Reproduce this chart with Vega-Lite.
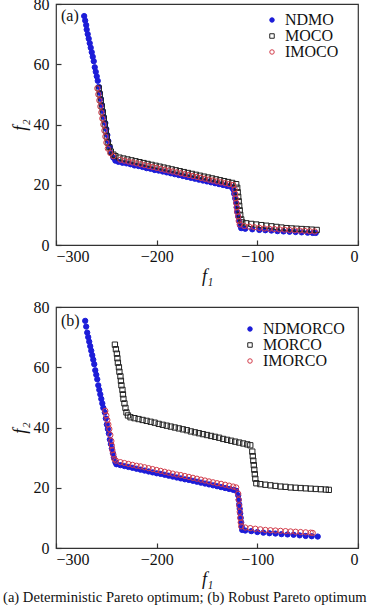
{
"$schema": "https://vega.github.io/schema/vega-lite/v6.json",
"padding": {"left": 3, "top": -5, "right": 0, "bottom": 0},
"background": "white",
"spacing": 12,
"title": {"text": "(a) Deterministic Pareto optimum; (b) Robust Pareto optimum", "orient": "bottom", "anchor": "middle", "fontSize": 14.6, "font": "Liberation Serif", "fontWeight": "normal", "color": "#111", "offset": 1},
"datasets": {
"a": [
{"f1":-272,"f2":76,"s":"NDMO"},{"f1":-271,"f2":74.5,"s":"NDMO"},{"f1":-270,"f2":73,"s":"NDMO"},{"f1":-269.5,"f2":71.5,"s":"NDMO"},{"f1":-268.5,"f2":70,"s":"NDMO"},{"f1":-267.5,"f2":68.5,"s":"NDMO"},{"f1":-266.5,"f2":67,"s":"NDMO"},{"f1":-265.5,"f2":65.5,"s":"NDMO"},{"f1":-264.5,"f2":64,"s":"NDMO"},{"f1":-263.5,"f2":62.5,"s":"NDMO"},{"f1":-262.5,"f2":61,"s":"NDMO"},{"f1":-261.5,"f2":59,"s":"NDMO"},{"f1":-260.5,"f2":57.5,"s":"NDMO"},{"f1":-259.5,"f2":56,"s":"NDMO"},{"f1":-258.5,"f2":54.5,"s":"NDMO"},{"f1":-257.5,"f2":52.5,"s":"NDMO"},{"f1":-256.5,"f2":50.5,"s":"NDMO"},{"f1":-255.5,"f2":48.5,"s":"NDMO"},{"f1":-254.5,"f2":46.5,"s":"NDMO"},{"f1":-253.5,"f2":44.5,"s":"NDMO"},{"f1":-252.5,"f2":42.5,"s":"NDMO"},{"f1":-251,"f2":40.5,"s":"NDMO"},{"f1":-250,"f2":38.5,"s":"NDMO"},{"f1":-249,"f2":36.5,"s":"NDMO"},{"f1":-248,"f2":34.5,"s":"NDMO"},{"f1":-246.5,"f2":32.5,"s":"NDMO"},{"f1":-245,"f2":30.5,"s":"NDMO"},{"f1":-243,"f2":29,"s":"NDMO"},{"f1":-241,"f2":28,"s":"NDMO"},
{"f1":-238,"f2":27.6,"s":"NDMO"},{"f1":-234,"f2":27.3,"s":"NDMO"},{"f1":-230,"f2":27.1,"s":"NDMO"},{"f1":-226,"f2":26.8,"s":"NDMO"},{"f1":-222,"f2":26.4,"s":"NDMO"},{"f1":-218,"f2":26.2,"s":"NDMO"},{"f1":-214,"f2":25.9,"s":"NDMO"},{"f1":-210,"f2":25.5,"s":"NDMO"},{"f1":-206,"f2":25.3,"s":"NDMO"},{"f1":-202,"f2":24.9,"s":"NDMO"},{"f1":-198,"f2":24.7,"s":"NDMO"},{"f1":-194,"f2":24.4,"s":"NDMO"},{"f1":-190,"f2":24.1,"s":"NDMO"},{"f1":-186,"f2":23.8,"s":"NDMO"},{"f1":-182,"f2":23.5,"s":"NDMO"},{"f1":-178,"f2":23.2,"s":"NDMO"},{"f1":-174,"f2":22.9,"s":"NDMO"},{"f1":-170,"f2":22.6,"s":"NDMO"},{"f1":-166,"f2":22.3,"s":"NDMO"},{"f1":-162,"f2":22.0,"s":"NDMO"},{"f1":-158,"f2":21.7,"s":"NDMO"},{"f1":-154,"f2":21.4,"s":"NDMO"},{"f1":-150,"f2":21.1,"s":"NDMO"},{"f1":-146,"f2":20.8,"s":"NDMO"},{"f1":-142,"f2":20.5,"s":"NDMO"},{"f1":-138,"f2":20.2,"s":"NDMO"},{"f1":-134,"f2":19.9,"s":"NDMO"},{"f1":-130,"f2":19.6,"s":"NDMO"},{"f1":-126,"f2":19.3,"s":"NDMO"},
{"f1":-124,"f2":18.5,"s":"NDMO"},{"f1":-123,"f2":17,"s":"NDMO"},{"f1":-122,"f2":15.5,"s":"NDMO"},{"f1":-121,"f2":14,"s":"NDMO"},{"f1":-120.5,"f2":12.5,"s":"NDMO"},{"f1":-120,"f2":11,"s":"NDMO"},{"f1":-119,"f2":9.5,"s":"NDMO"},{"f1":-118,"f2":8,"s":"NDMO"},{"f1":-117,"f2":6.5,"s":"NDMO"},{"f1":-116,"f2":5.6,"s":"NDMO"},
{"f1":-112,"f2":5.4,"s":"NDMO"},{"f1":-105,"f2":5.2,"s":"NDMO"},{"f1":-98,"f2":5.0,"s":"NDMO"},{"f1":-92,"f2":4.9,"s":"NDMO"},{"f1":-86,"f2":4.8,"s":"NDMO"},{"f1":-80,"f2":4.6,"s":"NDMO"},{"f1":-74,"f2":4.5,"s":"NDMO"},{"f1":-68,"f2":4.4,"s":"NDMO"},{"f1":-62,"f2":4.3,"s":"NDMO"},{"f1":-56,"f2":4.2,"s":"NDMO"},{"f1":-50,"f2":4.1,"s":"NDMO"},{"f1":-45,"f2":4.0,"s":"NDMO"},{"f1":-42,"f2":4.0,"s":"NDMO"},
{"f1":-257.5,"f2":52,"s":"MOCO"},{"f1":-256.5,"f2":50,"s":"MOCO"},{"f1":-255.5,"f2":48,"s":"MOCO"},{"f1":-254.5,"f2":46,"s":"MOCO"},{"f1":-253.5,"f2":44,"s":"MOCO"},{"f1":-252.5,"f2":42,"s":"MOCO"},{"f1":-251.5,"f2":40,"s":"MOCO"},{"f1":-250.5,"f2":38,"s":"MOCO"},{"f1":-249.5,"f2":36,"s":"MOCO"},{"f1":-248.5,"f2":34,"s":"MOCO"},{"f1":-247,"f2":32.5,"s":"MOCO"},{"f1":-245.5,"f2":31,"s":"MOCO"},{"f1":-243,"f2":30,"s":"MOCO"},{"f1":-241,"f2":29.5,"s":"MOCO"},
{"f1":-237,"f2":29,"s":"MOCO"},{"f1":-233,"f2":28.7,"s":"MOCO"},{"f1":-229,"f2":28.4,"s":"MOCO"},{"f1":-225,"f2":28.1,"s":"MOCO"},{"f1":-221,"f2":27.8,"s":"MOCO"},{"f1":-217,"f2":27.5,"s":"MOCO"},{"f1":-213,"f2":27.2,"s":"MOCO"},{"f1":-209,"f2":26.9,"s":"MOCO"},{"f1":-205,"f2":26.6,"s":"MOCO"},{"f1":-201,"f2":26.3,"s":"MOCO"},{"f1":-197,"f2":26.0,"s":"MOCO"},{"f1":-193,"f2":25.7,"s":"MOCO"},{"f1":-189,"f2":25.4,"s":"MOCO"},{"f1":-185,"f2":25.1,"s":"MOCO"},{"f1":-181,"f2":24.8,"s":"MOCO"},{"f1":-177,"f2":24.5,"s":"MOCO"},{"f1":-173,"f2":24.2,"s":"MOCO"},{"f1":-169,"f2":23.9,"s":"MOCO"},{"f1":-165,"f2":23.6,"s":"MOCO"},{"f1":-161,"f2":23.3,"s":"MOCO"},{"f1":-157,"f2":23.0,"s":"MOCO"},{"f1":-153,"f2":22.7,"s":"MOCO"},{"f1":-149,"f2":22.4,"s":"MOCO"},{"f1":-145,"f2":22.1,"s":"MOCO"},{"f1":-141,"f2":21.8,"s":"MOCO"},{"f1":-137,"f2":21.5,"s":"MOCO"},{"f1":-133,"f2":21.2,"s":"MOCO"},{"f1":-129,"f2":20.9,"s":"MOCO"},{"f1":-125,"f2":20.6,"s":"MOCO"},{"f1":-121,"f2":20.2,"s":"MOCO"},
{"f1":-120,"f2":19,"s":"MOCO"},{"f1":-119.5,"f2":17.5,"s":"MOCO"},{"f1":-119,"f2":16,"s":"MOCO"},{"f1":-118.5,"f2":14.5,"s":"MOCO"},{"f1":-118,"f2":13,"s":"MOCO"},{"f1":-117.5,"f2":11.5,"s":"MOCO"},{"f1":-117,"f2":10,"s":"MOCO"},{"f1":-116,"f2":8.5,"s":"MOCO"},{"f1":-115,"f2":7.5,"s":"MOCO"},
{"f1":-111,"f2":7.2,"s":"MOCO"},{"f1":-106,"f2":7.0,"s":"MOCO"},{"f1":-101,"f2":6.8,"s":"MOCO"},{"f1":-96,"f2":6.6,"s":"MOCO"},{"f1":-91,"f2":6.4,"s":"MOCO"},{"f1":-86,"f2":6.2,"s":"MOCO"},{"f1":-81,"f2":6.0,"s":"MOCO"},{"f1":-76,"f2":5.8,"s":"MOCO"},{"f1":-71,"f2":5.6,"s":"MOCO"},{"f1":-66,"f2":5.5,"s":"MOCO"},{"f1":-61,"f2":5.4,"s":"MOCO"},{"f1":-56,"f2":5.3,"s":"MOCO"},{"f1":-51,"f2":5.2,"s":"MOCO"},{"f1":-46,"f2":5.1,"s":"MOCO"},{"f1":-41,"f2":5.0,"s":"MOCO"},
{"f1":-259,"f2":52,"s":"IMOCO"},{"f1":-258,"f2":50,"s":"IMOCO"},{"f1":-257,"f2":48,"s":"IMOCO"},{"f1":-256,"f2":46,"s":"IMOCO"},{"f1":-255,"f2":44,"s":"IMOCO"},{"f1":-254,"f2":42,"s":"IMOCO"},{"f1":-253,"f2":40,"s":"IMOCO"},{"f1":-252,"f2":38,"s":"IMOCO"},{"f1":-251,"f2":36,"s":"IMOCO"},{"f1":-250,"f2":34,"s":"IMOCO"},{"f1":-248.5,"f2":32,"s":"IMOCO"},{"f1":-246,"f2":30.5,"s":"IMOCO"},{"f1":-243,"f2":29.5,"s":"IMOCO"},
{"f1":-236,"f2":28.3,"s":"IMOCO"},{"f1":-232,"f2":28.0,"s":"IMOCO"},{"f1":-228,"f2":27.7,"s":"IMOCO"},{"f1":-224,"f2":27.4,"s":"IMOCO"},{"f1":-220,"f2":27.1,"s":"IMOCO"},{"f1":-216,"f2":26.8,"s":"IMOCO"},{"f1":-212,"f2":26.5,"s":"IMOCO"},{"f1":-208,"f2":26.2,"s":"IMOCO"},{"f1":-204,"f2":25.9,"s":"IMOCO"},{"f1":-200,"f2":25.6,"s":"IMOCO"},{"f1":-196,"f2":25.3,"s":"IMOCO"},{"f1":-192,"f2":25.0,"s":"IMOCO"},{"f1":-188,"f2":24.7,"s":"IMOCO"},{"f1":-184,"f2":24.4,"s":"IMOCO"},{"f1":-180,"f2":24.1,"s":"IMOCO"},{"f1":-176,"f2":23.8,"s":"IMOCO"},{"f1":-172,"f2":23.5,"s":"IMOCO"},{"f1":-168,"f2":23.2,"s":"IMOCO"},{"f1":-164,"f2":22.9,"s":"IMOCO"},{"f1":-160,"f2":22.6,"s":"IMOCO"},{"f1":-156,"f2":22.3,"s":"IMOCO"},{"f1":-152,"f2":22.0,"s":"IMOCO"},{"f1":-148,"f2":21.7,"s":"IMOCO"},{"f1":-144,"f2":21.4,"s":"IMOCO"},{"f1":-140,"f2":21.1,"s":"IMOCO"},{"f1":-136,"f2":20.8,"s":"IMOCO"},{"f1":-132,"f2":20.5,"s":"IMOCO"},{"f1":-128,"f2":20.2,"s":"IMOCO"},{"f1":-124,"f2":19.9,"s":"IMOCO"},
{"f1":-122.5,"f2":18.5,"s":"IMOCO"},{"f1":-122,"f2":17,"s":"IMOCO"},{"f1":-121.5,"f2":15.5,"s":"IMOCO"},{"f1":-121,"f2":14,"s":"IMOCO"},{"f1":-120.5,"f2":12.5,"s":"IMOCO"},{"f1":-120,"f2":11,"s":"IMOCO"},{"f1":-119,"f2":9.5,"s":"IMOCO"},{"f1":-118.5,"f2":8,"s":"IMOCO"},{"f1":-117.5,"f2":6.8,"s":"IMOCO"},
{"f1":-113,"f2":6.3,"s":"IMOCO"},{"f1":-108,"f2":6.1,"s":"IMOCO"},{"f1":-103,"f2":5.9,"s":"IMOCO"},{"f1":-98,"f2":5.7,"s":"IMOCO"},{"f1":-93,"f2":5.5,"s":"IMOCO"},{"f1":-88,"f2":5.4,"s":"IMOCO"},{"f1":-83,"f2":5.3,"s":"IMOCO"},{"f1":-78,"f2":5.2,"s":"IMOCO"},{"f1":-73,"f2":5.1,"s":"IMOCO"},{"f1":-68,"f2":5.0,"s":"IMOCO"},{"f1":-63,"f2":4.9,"s":"IMOCO"},{"f1":-58,"f2":4.8,"s":"IMOCO"},{"f1":-53,"f2":4.7,"s":"IMOCO"},{"f1":-48,"f2":4.6,"s":"IMOCO"},{"f1":-43,"f2":4.5,"s":"IMOCO"}
],
"b": [
{"f1":-271,"f2":75.4,"s":"NDMORCO"},{"f1":-270,"f2":73.5,"s":"NDMORCO"},{"f1":-269,"f2":71.5,"s":"NDMORCO"},{"f1":-268,"f2":70,"s":"NDMORCO"},{"f1":-267,"f2":68.5,"s":"NDMORCO"},{"f1":-266,"f2":67,"s":"NDMORCO"},{"f1":-265,"f2":65.5,"s":"NDMORCO"},{"f1":-264,"f2":64,"s":"NDMORCO"},{"f1":-263,"f2":62.5,"s":"NDMORCO"},{"f1":-262,"f2":61,"s":"NDMORCO"},{"f1":-261,"f2":59,"s":"NDMORCO"},{"f1":-260,"f2":57.5,"s":"NDMORCO"},{"f1":-259,"f2":56,"s":"NDMORCO"},{"f1":-258,"f2":54,"s":"NDMORCO"},{"f1":-257,"f2":52.5,"s":"NDMORCO"},{"f1":-256,"f2":51,"s":"NDMORCO"},{"f1":-255,"f2":49.5,"s":"NDMORCO"},{"f1":-254,"f2":48,"s":"NDMORCO"},{"f1":-253,"f2":46.5,"s":"NDMORCO"},{"f1":-251.5,"f2":45,"s":"NDMORCO"},{"f1":-250.5,"f2":43,"s":"NDMORCO"},{"f1":-249.5,"f2":41,"s":"NDMORCO"},{"f1":-248.5,"f2":39.5,"s":"NDMORCO"},{"f1":-247.5,"f2":38,"s":"NDMORCO"},{"f1":-246.5,"f2":36,"s":"NDMORCO"},{"f1":-245.5,"f2":34.5,"s":"NDMORCO"},{"f1":-244.5,"f2":33,"s":"NDMORCO"},{"f1":-243.5,"f2":31.5,"s":"NDMORCO"},{"f1":-242.5,"f2":30,"s":"NDMORCO"},{"f1":-241,"f2":28.5,"s":"NDMORCO"},{"f1":-240,"f2":27.8,"s":"NDMORCO"},
{"f1":-236,"f2":27.5,"s":"NDMORCO"},{"f1":-232,"f2":27.2,"s":"NDMORCO"},{"f1":-228,"f2":26.9,"s":"NDMORCO"},{"f1":-224,"f2":26.6,"s":"NDMORCO"},{"f1":-220,"f2":26.3,"s":"NDMORCO"},{"f1":-216,"f2":26.0,"s":"NDMORCO"},{"f1":-212,"f2":25.7,"s":"NDMORCO"},{"f1":-208,"f2":25.4,"s":"NDMORCO"},{"f1":-204,"f2":25.1,"s":"NDMORCO"},{"f1":-200,"f2":24.8,"s":"NDMORCO"},{"f1":-196,"f2":24.6,"s":"NDMORCO"},{"f1":-192,"f2":24.3,"s":"NDMORCO"},{"f1":-188,"f2":24.0,"s":"NDMORCO"},{"f1":-184,"f2":23.7,"s":"NDMORCO"},{"f1":-180,"f2":23.4,"s":"NDMORCO"},{"f1":-176,"f2":23.1,"s":"NDMORCO"},{"f1":-172,"f2":22.8,"s":"NDMORCO"},{"f1":-168,"f2":22.6,"s":"NDMORCO"},{"f1":-164,"f2":22.3,"s":"NDMORCO"},{"f1":-160,"f2":22.0,"s":"NDMORCO"},{"f1":-156,"f2":21.7,"s":"NDMORCO"},{"f1":-152,"f2":21.4,"s":"NDMORCO"},{"f1":-148,"f2":21.1,"s":"NDMORCO"},{"f1":-144,"f2":20.8,"s":"NDMORCO"},{"f1":-140,"f2":20.5,"s":"NDMORCO"},{"f1":-136,"f2":20.2,"s":"NDMORCO"},{"f1":-132,"f2":19.9,"s":"NDMORCO"},{"f1":-128,"f2":19.6,"s":"NDMORCO"},{"f1":-124,"f2":19.3,"s":"NDMORCO"},{"f1":-121,"f2":19.0,"s":"NDMORCO"},
{"f1":-119,"f2":17.5,"s":"NDMORCO"},{"f1":-118.5,"f2":16,"s":"NDMORCO"},{"f1":-118,"f2":14.5,"s":"NDMORCO"},{"f1":-117.5,"f2":13,"s":"NDMORCO"},{"f1":-117,"f2":11.5,"s":"NDMORCO"},{"f1":-116.5,"f2":10,"s":"NDMORCO"},{"f1":-116,"f2":8.5,"s":"NDMORCO"},{"f1":-115.5,"f2":7,"s":"NDMORCO"},{"f1":-115,"f2":6,"s":"NDMORCO"},
{"f1":-112,"f2":5.8,"s":"NDMORCO"},{"f1":-106,"f2":5.6,"s":"NDMORCO"},{"f1":-100,"f2":5.3,"s":"NDMORCO"},{"f1":-94,"f2":5.1,"s":"NDMORCO"},{"f1":-88,"f2":4.9,"s":"NDMORCO"},{"f1":-82,"f2":4.8,"s":"NDMORCO"},{"f1":-76,"f2":4.6,"s":"NDMORCO"},{"f1":-70,"f2":4.5,"s":"NDMORCO"},{"f1":-64,"f2":4.4,"s":"NDMORCO"},{"f1":-58,"f2":4.2,"s":"NDMORCO"},{"f1":-52,"f2":4.0,"s":"NDMORCO"},{"f1":-46,"f2":3.9,"s":"NDMORCO"},{"f1":-40,"f2":3.8,"s":"NDMORCO"},
{"f1":-241.5,"f2":67.5,"s":"MORCO"},{"f1":-240.5,"f2":66,"s":"MORCO"},{"f1":-239.5,"f2":64.5,"s":"MORCO"},{"f1":-239,"f2":63,"s":"MORCO"},{"f1":-238.5,"f2":61.5,"s":"MORCO"},{"f1":-237.5,"f2":60,"s":"MORCO"},{"f1":-237,"f2":58.5,"s":"MORCO"},{"f1":-236,"f2":57,"s":"MORCO"},{"f1":-235.5,"f2":55.5,"s":"MORCO"},{"f1":-235,"f2":54,"s":"MORCO"},{"f1":-234,"f2":52.5,"s":"MORCO"},{"f1":-233.5,"f2":51,"s":"MORCO"},{"f1":-233,"f2":49.5,"s":"MORCO"},{"f1":-232,"f2":48,"s":"MORCO"},{"f1":-231,"f2":46.5,"s":"MORCO"},{"f1":-230,"f2":45,"s":"MORCO"},{"f1":-228.5,"f2":44,"s":"MORCO"},
{"f1":-226,"f2":43.4,"s":"MORCO"},{"f1":-222,"f2":43.1,"s":"MORCO"},{"f1":-218,"f2":42.8,"s":"MORCO"},{"f1":-214,"f2":42.5,"s":"MORCO"},{"f1":-210,"f2":42.2,"s":"MORCO"},{"f1":-206,"f2":41.9,"s":"MORCO"},{"f1":-202,"f2":41.6,"s":"MORCO"},{"f1":-198,"f2":41.2,"s":"MORCO"},{"f1":-194,"f2":40.9,"s":"MORCO"},{"f1":-190,"f2":40.6,"s":"MORCO"},{"f1":-186,"f2":40.3,"s":"MORCO"},{"f1":-182,"f2":40.0,"s":"MORCO"},{"f1":-178,"f2":39.7,"s":"MORCO"},{"f1":-174,"f2":39.4,"s":"MORCO"},{"f1":-170,"f2":39.1,"s":"MORCO"},{"f1":-166,"f2":38.7,"s":"MORCO"},{"f1":-162,"f2":38.4,"s":"MORCO"},{"f1":-158,"f2":38.1,"s":"MORCO"},{"f1":-154,"f2":37.8,"s":"MORCO"},{"f1":-150,"f2":37.5,"s":"MORCO"},{"f1":-146,"f2":37.2,"s":"MORCO"},{"f1":-142,"f2":36.9,"s":"MORCO"},{"f1":-138,"f2":36.6,"s":"MORCO"},{"f1":-134,"f2":36.2,"s":"MORCO"},{"f1":-130,"f2":35.9,"s":"MORCO"},{"f1":-126,"f2":35.6,"s":"MORCO"},{"f1":-122,"f2":35.3,"s":"MORCO"},{"f1":-118,"f2":35.0,"s":"MORCO"},{"f1":-114,"f2":34.7,"s":"MORCO"},{"f1":-110,"f2":34.4,"s":"MORCO"},{"f1":-107,"f2":34.1,"s":"MORCO"},
{"f1":-105,"f2":32,"s":"MORCO"},{"f1":-104.5,"f2":30.5,"s":"MORCO"},{"f1":-104,"f2":29,"s":"MORCO"},{"f1":-103.5,"f2":27.5,"s":"MORCO"},{"f1":-103,"f2":26,"s":"MORCO"},{"f1":-102.5,"f2":24.5,"s":"MORCO"},{"f1":-102,"f2":23,"s":"MORCO"},{"f1":-101,"f2":21.5,"s":"MORCO"},
{"f1":-97,"f2":21.2,"s":"MORCO"},{"f1":-92,"f2":21.0,"s":"MORCO"},{"f1":-87,"f2":20.8,"s":"MORCO"},{"f1":-82,"f2":20.6,"s":"MORCO"},{"f1":-77,"f2":20.4,"s":"MORCO"},{"f1":-72,"f2":20.3,"s":"MORCO"},{"f1":-67,"f2":20.1,"s":"MORCO"},{"f1":-62,"f2":20.0,"s":"MORCO"},{"f1":-57,"f2":19.9,"s":"MORCO"},{"f1":-52,"f2":19.8,"s":"MORCO"},{"f1":-47,"f2":19.7,"s":"MORCO"},{"f1":-42,"f2":19.6,"s":"MORCO"},{"f1":-37,"f2":19.5,"s":"MORCO"},{"f1":-32,"f2":19.4,"s":"MORCO"},{"f1":-29,"f2":19.3,"s":"MORCO"},
{"f1":-251,"f2":45.5,"s":"IMORCO"},{"f1":-250,"f2":44,"s":"IMORCO"},{"f1":-249,"f2":42.5,"s":"IMORCO"},{"f1":-248,"f2":41,"s":"IMORCO"},{"f1":-247,"f2":39.5,"s":"IMORCO"},{"f1":-246,"f2":37.5,"s":"IMORCO"},{"f1":-245,"f2":35.5,"s":"IMORCO"},{"f1":-244.5,"f2":34,"s":"IMORCO"},{"f1":-244,"f2":32.5,"s":"IMORCO"},{"f1":-243,"f2":31,"s":"IMORCO"},{"f1":-242,"f2":29.5,"s":"IMORCO"},{"f1":-240.5,"f2":29,"s":"IMORCO"},
{"f1":-236,"f2":28.5,"s":"IMORCO"},{"f1":-232,"f2":28.2,"s":"IMORCO"},{"f1":-228,"f2":27.9,"s":"IMORCO"},{"f1":-224,"f2":27.6,"s":"IMORCO"},{"f1":-220,"f2":27.3,"s":"IMORCO"},{"f1":-216,"f2":27.1,"s":"IMORCO"},{"f1":-212,"f2":26.8,"s":"IMORCO"},{"f1":-208,"f2":26.5,"s":"IMORCO"},{"f1":-204,"f2":26.2,"s":"IMORCO"},{"f1":-200,"f2":25.9,"s":"IMORCO"},{"f1":-196,"f2":25.6,"s":"IMORCO"},{"f1":-192,"f2":25.3,"s":"IMORCO"},{"f1":-188,"f2":25.0,"s":"IMORCO"},{"f1":-184,"f2":24.7,"s":"IMORCO"},{"f1":-180,"f2":24.4,"s":"IMORCO"},{"f1":-176,"f2":24.2,"s":"IMORCO"},{"f1":-172,"f2":23.9,"s":"IMORCO"},{"f1":-168,"f2":23.6,"s":"IMORCO"},{"f1":-164,"f2":23.3,"s":"IMORCO"},{"f1":-160,"f2":23.0,"s":"IMORCO"},{"f1":-156,"f2":22.7,"s":"IMORCO"},{"f1":-152,"f2":22.4,"s":"IMORCO"},{"f1":-148,"f2":22.1,"s":"IMORCO"},{"f1":-144,"f2":21.8,"s":"IMORCO"},{"f1":-140,"f2":21.5,"s":"IMORCO"},{"f1":-136,"f2":21.3,"s":"IMORCO"},{"f1":-132,"f2":21.0,"s":"IMORCO"},{"f1":-128,"f2":20.7,"s":"IMORCO"},{"f1":-124,"f2":20.4,"s":"IMORCO"},{"f1":-121,"f2":20.1,"s":"IMORCO"},
{"f1":-119,"f2":18,"s":"IMORCO"},{"f1":-118.5,"f2":16,"s":"IMORCO"},{"f1":-118,"f2":14,"s":"IMORCO"},{"f1":-117.5,"f2":12,"s":"IMORCO"},{"f1":-117,"f2":10,"s":"IMORCO"},{"f1":-116.5,"f2":8.5,"s":"IMORCO"},{"f1":-116,"f2":7.2,"s":"IMORCO"},
{"f1":-112,"f2":6.8,"s":"IMORCO"},{"f1":-107,"f2":6.6,"s":"IMORCO"},{"f1":-102,"f2":6.4,"s":"IMORCO"},{"f1":-97,"f2":6.2,"s":"IMORCO"},{"f1":-92,"f2":6.0,"s":"IMORCO"},{"f1":-87,"f2":5.9,"s":"IMORCO"},{"f1":-82,"f2":5.8,"s":"IMORCO"},{"f1":-77,"f2":5.7,"s":"IMORCO"},{"f1":-72,"f2":5.6,"s":"IMORCO"},{"f1":-67,"f2":5.5,"s":"IMORCO"},{"f1":-62,"f2":5.4,"s":"IMORCO"},{"f1":-57,"f2":5.3,"s":"IMORCO"},{"f1":-52,"f2":5.2,"s":"IMORCO"},{"f1":-47,"f2":5.1,"s":"IMORCO"},{"f1":-45,"f2":5.0,"s":"IMORCO"}
],
"labels": [{"panel": "a", "label": "(a)"}, {"panel": "b", "label": "(b)"}]
},
"vconcat": [
{
"width": 302, "height": 241,
"layer": [
{"data": {"name": "a"},
 "mark": {"type": "point", "size": 28, "strokeWidth": 1, "opacity": 1},
 "encoding": {
  "x": {"field": "f1", "type": "quantitative", "scale": {"domain": [-300, 0], "nice": false, "zero": false}, "axis": {"values": [-300, -200, -100, 0], "title": "f₁"}},
  "y": {"field": "f2", "type": "quantitative", "scale": {"domain": [0, 80], "nice": false}, "axis": {"values": [0, 20, 40, 60, 80], "title": "f₂"}},
  "shape": {"field": "s", "type": "nominal", "scale": {"domain": ["NDMO", "MOCO", "IMOCO"], "range": ["circle", "square", "circle"]}, "legend": {"orient": "none", "legendX": 208, "legendY": 8, "title": null}},
  "stroke": {"field": "s", "type": "nominal", "scale": {"domain": ["NDMO", "MOCO", "IMOCO"], "range": ["#1c1cd8", "#222222", "#d23c4a"]}, "legend": {"orient": "none", "legendX": 208, "legendY": 8, "title": null}},
  "fill": {"field": "s", "type": "nominal", "scale": {"domain": ["NDMO", "MOCO", "IMOCO"], "range": ["#1c1cd8", "transparent", "transparent"]}, "legend": {"orient": "none", "legendX": 208, "legendY": 8, "title": null}}
 }},
{"data": {"name": "labels"},
 "transform": [{"filter": "datum.panel === 'a'"}],
 "mark": {"type": "text", "align": "left", "baseline": "middle", "fontSize": 16, "font": "Liberation Serif", "color": "#111"},
 "encoding": {"x": {"datum": -295}, "y": {"datum": 76}, "text": {"field": "label"}}}
]
},
{
"width": 302, "height": 241,
"layer": [
{"data": {"name": "b"},
 "mark": {"type": "point", "size": 28, "strokeWidth": 1, "opacity": 1},
 "encoding": {
  "x": {"field": "f1", "type": "quantitative", "scale": {"domain": [-300, 0], "nice": false, "zero": false}, "axis": {"values": [-300, -200, -100, 0], "title": "f₁"}},
  "y": {"field": "f2", "type": "quantitative", "scale": {"domain": [0, 80], "nice": false}, "axis": {"values": [0, 20, 40, 60, 80], "title": "f₂"}},
  "shape": {"field": "s", "type": "nominal", "scale": {"domain": ["NDMORCO", "MORCO", "IMORCO"], "range": ["circle", "square", "circle"]}, "legend": {"orient": "none", "legendX": 186, "legendY": 14, "title": null}},
  "stroke": {"field": "s", "type": "nominal", "scale": {"domain": ["NDMORCO", "MORCO", "IMORCO"], "range": ["#1c1cd8", "#222222", "#d23c4a"]}, "legend": {"orient": "none", "legendX": 186, "legendY": 14, "title": null}},
  "fill": {"field": "s", "type": "nominal", "scale": {"domain": ["NDMORCO", "MORCO", "IMORCO"], "range": ["#1c1cd8", "transparent", "transparent"]}, "legend": {"orient": "none", "legendX": 186, "legendY": 14, "title": null}}
 }},
{"data": {"name": "labels"},
 "transform": [{"filter": "datum.panel === 'b'"}],
 "mark": {"type": "text", "align": "left", "baseline": "middle", "fontSize": 16, "font": "Liberation Serif", "color": "#111"},
 "encoding": {"x": {"datum": -295}, "y": {"datum": 75.5}, "text": {"field": "label"}}}
]
}
],
"resolve": {"scale": {"shape": "independent", "stroke": "independent", "fill": "independent"}, "legend": {"shape": "independent", "stroke": "independent", "fill": "independent"}},
"config": {
 "font": "Liberation Serif",
 "view": {"stroke": "#333333", "strokeWidth": 1.2},
 "axis": {"domain": false, "grid": false, "tickSize": -5, "tickColor": "#333333", "tickWidth": 1.2, "labelFontSize": 16, "labelColor": "#111111", "labelFont": "Liberation Serif", "titleFont": "Liberation Serif", "titleFontSize": 18, "titleFontWeight": "normal", "titleFontStyle": "italic", "titleColor": "#111111"},
 "axisX": {"labelPadding": 8, "titlePadding": 3},
 "axisY": {"labelPadding": 12, "titleX": -36, "titleY": 120.5, "titleBaseline": "middle", "titleAlign": "center", "titleAngle": -90},
 "legend": {"labelFontSize": 16, "labelFont": "Liberation Serif", "labelColor": "#111111", "symbolSize": 20, "symbolStrokeWidth": 1, "labelOffset": 5, "rowPadding": 0, "padding": 0}
}
}
